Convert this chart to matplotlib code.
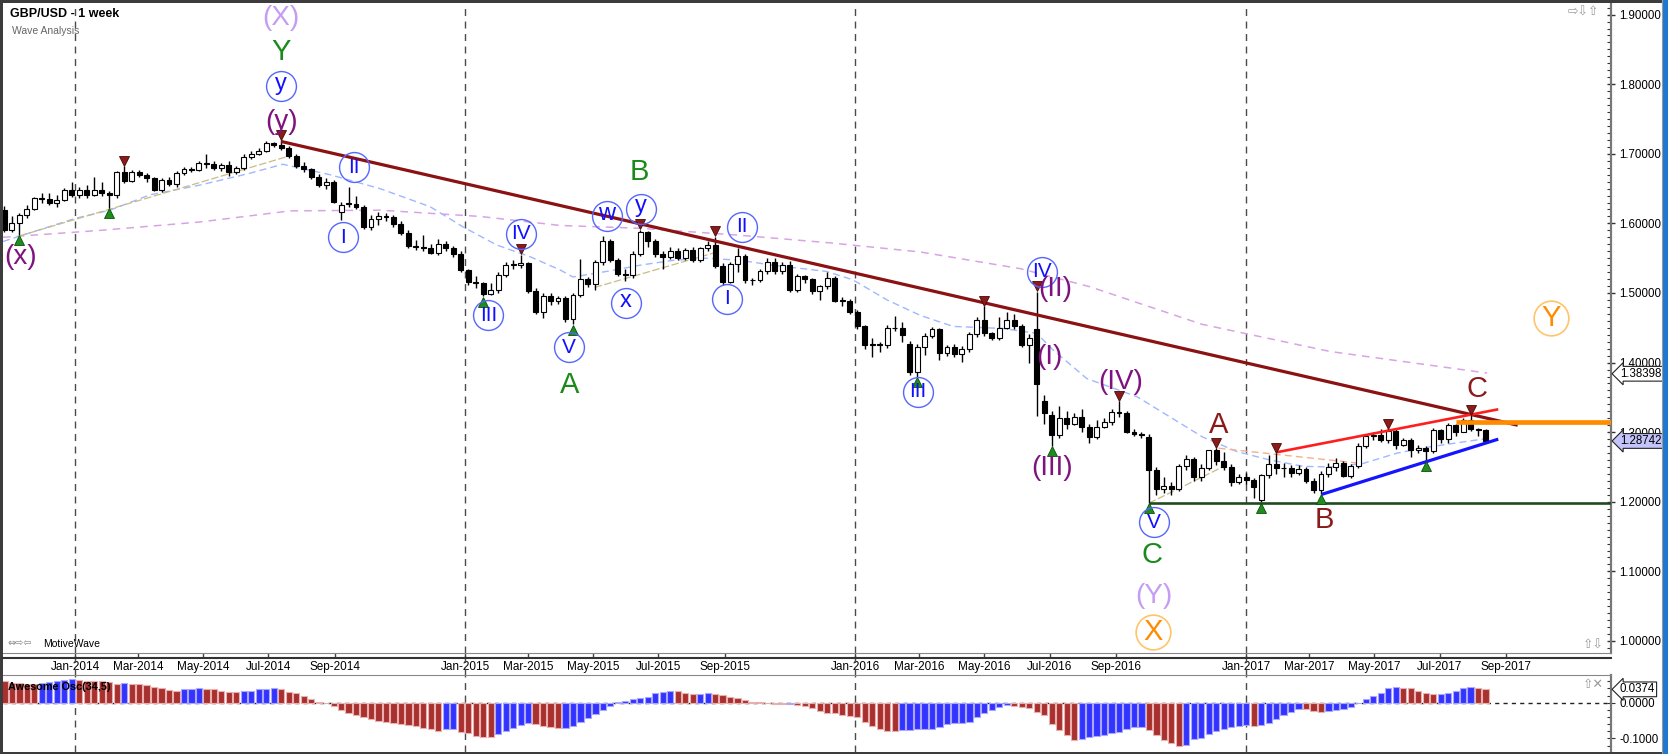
import numpy as np
import pandas as pd
import matplotlib
matplotlib.use('Agg')
import matplotlib.pyplot as plt
import matplotlib.dates as mdates
from matplotlib.lines import Line2D
from matplotlib.patches import Rectangle
from matplotlib.ticker import MultipleLocator, FixedLocator
from matplotlib.transforms import blended_transform_factory

plt.rcParams['font.family'] = ['Liberation Sans', 'DejaVu Sans']

# ---------------- data (weekly GBP/USD candles, week starts) ----------------
start_week = '2013-10-27'
opens = [1.619, 1.591, 1.601, 1.612, 1.621, 1.636, 1.635, 1.630, 1.634, 1.648,
         1.641, 1.648, 1.641, 1.648, 1.643, 1.641, 1.674, 1.661, 1.674, 1.670,
         1.665, 1.648, 1.662, 1.657, 1.672, 1.678, 1.677, 1.687, 1.685, 1.680,
         1.684, 1.674, 1.679, 1.696, 1.700, 1.704, 1.716, 1.713, 1.708, 1.697,
         1.682, 1.678, 1.667, 1.655, 1.660, 1.617, 1.629, 1.628, 1.624, 1.595,
         1.607, 1.611, 1.609, 1.599, 1.586, 1.567, 1.566, 1.564, 1.558, 1.571,
         1.564, 1.556, 1.533, 1.516, 1.514, 1.499, 1.505, 1.526, 1.542, 1.540,
         1.543, 1.503, 1.473, 1.495, 1.488, 1.493, 1.462, 1.497, 1.520, 1.513,
         1.544, 1.574, 1.548, 1.528, 1.526, 1.556, 1.588, 1.574, 1.556, 1.552,
         1.561, 1.551, 1.562, 1.548, 1.564, 1.569, 1.539, 1.516, 1.542, 1.553,
         1.519, 1.518, 1.532, 1.544, 1.531, 1.540, 1.504, 1.524, 1.520, 1.503,
         1.510, 1.521, 1.490, 1.488, 1.473, 1.452, 1.426, 1.426, 1.425, 1.449,
         1.450, 1.427, 1.387, 1.423, 1.438, 1.448, 1.414, 1.422, 1.413, 1.419,
         1.441, 1.461, 1.442, 1.436, 1.450, 1.461, 1.452, 1.425, 1.448, 1.345,
         1.325, 1.296, 1.320, 1.312, 1.322, 1.308, 1.293, 1.308, 1.314, 1.329,
         1.327, 1.301, 1.298, 1.293, 1.245, 1.219, 1.222, 1.219, 1.251, 1.261,
         1.235, 1.248, 1.274, 1.258, 1.250, 1.229, 1.235, 1.231, 1.2025, 1.238,
         1.255, 1.249, 1.248, 1.241, 1.247, 1.230, 1.217, 1.240, 1.250, 1.256,
         1.237, 1.251, 1.280, 1.294, 1.296, 1.289, 1.302, 1.282, 1.289, 1.274,
         1.278, 1.273, 1.303, 1.290, 1.310, 1.301, 1.318, 1.304, 1.303]
closes = [1.591, 1.601, 1.612, 1.621, 1.636, 1.635, 1.630, 1.634, 1.648, 1.641,
          1.648, 1.641, 1.648, 1.643, 1.641, 1.674, 1.661, 1.674, 1.670, 1.665,
          1.648, 1.662, 1.657, 1.672, 1.678, 1.677, 1.687, 1.685, 1.680, 1.684,
          1.674, 1.679, 1.696, 1.700, 1.704, 1.716, 1.713, 1.708, 1.697, 1.682,
          1.678, 1.667, 1.655, 1.660, 1.631, 1.627, 1.628, 1.624, 1.595, 1.607,
          1.611, 1.609, 1.599, 1.586, 1.567, 1.566, 1.564, 1.558, 1.571, 1.564,
          1.556, 1.533, 1.516, 1.514, 1.499, 1.505, 1.526, 1.540, 1.540, 1.543,
          1.503, 1.473, 1.495, 1.488, 1.493, 1.462, 1.497, 1.520, 1.513, 1.544,
          1.574, 1.548, 1.528, 1.526, 1.556, 1.588, 1.574, 1.556, 1.552, 1.561,
          1.551, 1.562, 1.548, 1.564, 1.569, 1.539, 1.516, 1.542, 1.553, 1.518,
          1.518, 1.532, 1.544, 1.531, 1.540, 1.504, 1.524, 1.520, 1.503, 1.510,
          1.521, 1.489, 1.488, 1.473, 1.452, 1.425, 1.425, 1.425, 1.450, 1.450,
          1.440, 1.387, 1.423, 1.438, 1.448, 1.414, 1.422, 1.413, 1.419, 1.441,
          1.461, 1.442, 1.436, 1.450, 1.461, 1.452, 1.425, 1.436, 1.369, 1.327,
          1.296, 1.320, 1.312, 1.322, 1.308, 1.293, 1.308, 1.314, 1.329, 1.327,
          1.301, 1.298, 1.296, 1.245, 1.219, 1.222, 1.219, 1.251, 1.261, 1.235,
          1.248, 1.274, 1.258, 1.250, 1.229, 1.235, 1.231, 1.221, 1.238, 1.255,
          1.249, 1.248, 1.241, 1.247, 1.230, 1.217, 1.240, 1.250, 1.256, 1.237,
          1.251, 1.280, 1.294, 1.296, 1.289, 1.302, 1.282, 1.289, 1.274, 1.278,
          1.273, 1.303, 1.290, 1.310, 1.301, 1.318, 1.304, 1.303, 1.287]
highs = [1.625, 1.611, 1.615, 1.626, 1.638, 1.644, 1.643, 1.641, 1.651, 1.660,
         1.652, 1.655, 1.667, 1.660, 1.647, 1.676, 1.682, 1.677, 1.677, 1.672,
         1.667, 1.665, 1.666, 1.675, 1.681, 1.681, 1.690, 1.700, 1.690, 1.687,
         1.689, 1.682, 1.699, 1.704, 1.708, 1.718, 1.717, 1.7195, 1.711, 1.700,
         1.688, 1.680, 1.671, 1.665, 1.662, 1.631, 1.652, 1.640, 1.627, 1.612,
         1.616, 1.615, 1.612, 1.603, 1.590, 1.576, 1.583, 1.570, 1.577, 1.574,
         1.567, 1.560, 1.535, 1.525, 1.516, 1.515, 1.530, 1.544, 1.547, 1.555,
         1.545, 1.507, 1.500, 1.500, 1.496, 1.496, 1.500, 1.549, 1.523, 1.547,
         1.582, 1.578, 1.550, 1.534, 1.560, 1.591, 1.589, 1.578, 1.560, 1.566,
         1.565, 1.565, 1.566, 1.566, 1.575, 1.581, 1.543, 1.545, 1.564, 1.556,
         1.522, 1.535, 1.551, 1.550, 1.544, 1.546, 1.528, 1.526, 1.522, 1.512,
         1.530, 1.524, 1.494, 1.492, 1.475, 1.454, 1.435, 1.430, 1.454, 1.467,
         1.459, 1.431, 1.427, 1.442, 1.451, 1.450, 1.426, 1.427, 1.424, 1.444,
         1.465, 1.481, 1.444, 1.465, 1.472, 1.470, 1.456, 1.441, 1.502, 1.353,
         1.330, 1.338, 1.330, 1.327, 1.333, 1.312, 1.318, 1.321, 1.333, 1.345,
         1.330, 1.304, 1.301, 1.297, 1.250, 1.235, 1.228, 1.255, 1.267, 1.264,
         1.254, 1.275, 1.2775, 1.272, 1.254, 1.240, 1.242, 1.234, 1.240, 1.267,
         1.2705, 1.256, 1.253, 1.253, 1.250, 1.234, 1.244, 1.256, 1.263, 1.258,
         1.254, 1.284, 1.297, 1.300, 1.304, 1.3048, 1.304, 1.292, 1.291, 1.281,
         1.280, 1.306, 1.305, 1.313, 1.312, 1.321, 1.324, 1.306, 1.304]
lows = [1.588, 1.587, 1.583, 1.608, 1.619, 1.630, 1.627, 1.624, 1.632, 1.638,
        1.636, 1.636, 1.639, 1.640, 1.622, 1.637, 1.658, 1.659, 1.666, 1.660,
        1.646, 1.645, 1.654, 1.653, 1.669, 1.674, 1.675, 1.679, 1.677, 1.676,
        1.668, 1.671, 1.677, 1.693, 1.698, 1.702, 1.710, 1.705, 1.694, 1.680,
        1.674, 1.664, 1.652, 1.650, 1.629, 1.605, 1.624, 1.620, 1.592, 1.590,
        1.597, 1.604, 1.595, 1.583, 1.565, 1.562, 1.561, 1.556, 1.555, 1.560,
        1.552, 1.530, 1.512, 1.507, 1.495, 1.497, 1.500, 1.523, 1.535, 1.536,
        1.500, 1.470, 1.464, 1.483, 1.484, 1.459, 1.455, 1.494, 1.508, 1.505,
        1.540, 1.545, 1.525, 1.517, 1.521, 1.553, 1.566, 1.552, 1.535, 1.549,
        1.547, 1.548, 1.545, 1.544, 1.561, 1.536, 1.512, 1.515, 1.530, 1.515,
        1.512, 1.516, 1.527, 1.528, 1.528, 1.501, 1.502, 1.514, 1.499, 1.490,
        1.506, 1.487, 1.482, 1.470, 1.448, 1.420, 1.408, 1.415, 1.421, 1.445,
        1.430, 1.382, 1.380, 1.411, 1.435, 1.404, 1.409, 1.408, 1.401, 1.415,
        1.437, 1.438, 1.432, 1.433, 1.448, 1.448, 1.422, 1.400, 1.323, 1.312,
        1.280, 1.291, 1.305, 1.310, 1.300, 1.284, 1.290, 1.306, 1.311, 1.322,
        1.299, 1.294, 1.291, 1.198, 1.210, 1.213, 1.210, 1.216, 1.246, 1.230,
        1.230, 1.245, 1.253, 1.245, 1.222, 1.225, 1.225, 1.205, 1.199, 1.234,
        1.240, 1.235, 1.235, 1.238, 1.227, 1.213, 1.2109, 1.236, 1.244, 1.235,
        1.234, 1.248, 1.277, 1.289, 1.286, 1.284, 1.276, 1.280, 1.265, 1.270,
        1.259, 1.270, 1.284, 1.285, 1.295, 1.300, 1.302, 1.294, 1.285]
# Awesome Oscillator (34,5) values
ao_vals = [0.061, 0.056, 0.054, 0.052, 0.051, 0.056, 0.059, 0.062, 0.063, 0.066,
           0.063, 0.062, 0.061, 0.060, 0.057, 0.052, 0.055, 0.052, 0.051, 0.049,
           0.045, 0.040, 0.035, 0.034, 0.037, 0.039, 0.040, 0.039, 0.037, 0.034,
           0.031, 0.030, 0.033, 0.034, 0.037, 0.039, 0.040, 0.038, 0.031, 0.028,
           0.019, 0.011, 0.003, -0.002, -0.009, -0.021, -0.030, -0.035, -0.041, -0.047,
           -0.050, -0.053, -0.056, -0.060, -0.063, -0.065, -0.070, -0.075, -0.078, -0.075,
           -0.074, -0.081, -0.086, -0.093, -0.095, -0.097, -0.088, -0.079, -0.070, -0.063,
           -0.058, -0.060, -0.065, -0.069, -0.072, -0.070, -0.064, -0.055, -0.044, -0.032,
           -0.021, -0.009, 0.002, 0.005, 0.009, 0.012, 0.017, 0.026, 0.029, 0.033,
           0.032, 0.026, 0.023, 0.025, 0.027, 0.024, 0.021, 0.015, 0.012, 0.007,
           0.002, 0.001, 0.0005, -0.004, -0.0045, -0.003, -0.006, -0.009, -0.016, -0.022,
           -0.028, -0.029, -0.035, -0.037, -0.041, -0.053, -0.065, -0.075, -0.079, -0.080,
           -0.077, -0.0755, -0.075, -0.0748, -0.074, -0.067, -0.060, -0.058, -0.056, -0.053,
           -0.041, -0.030, -0.021, -0.011, -0.007, -0.009, -0.011, -0.016, -0.025, -0.035,
           -0.060, -0.077, -0.091, -0.105, -0.103, -0.097, -0.093, -0.091, -0.086, -0.081,
           -0.074, -0.069, -0.068, -0.077, -0.091, -0.105, -0.114, -0.121, -0.119, -0.103,
           -0.100, -0.088, -0.078, -0.074, -0.069, -0.065, -0.063, -0.0645, -0.063, -0.058,
           -0.047, -0.035, -0.025, -0.018, -0.019, -0.022, -0.025, -0.022, -0.021, -0.018,
           -0.011, -0.002, 0.010, 0.020, 0.028, 0.040, 0.045, 0.042, 0.040, 0.034,
           0.026, 0.023, 0.025, 0.026, 0.033, 0.040, 0.043, 0.042, 0.0374]

# moving averages (week index, price)
ma_fast_n = [0.8, 10.4, 15.1, 20.45, 27.1, 33.8, 38.2, 44.5, 51.2, 57.9, 62.3, 66.8, 71.3,
             75.3, 77.0, 81.5, 86.0, 90.4, 94.9, 99.3, 103.7, 110.9, 114.4, 119.0, 123.4,
             127.8, 134.5, 139.0, 141.2, 145.7, 152.4, 156.8, 161.2, 165.8, 170.2, 174.6,
             178.2, 182.6, 187.2, 191.6, 196.0, 199.2]
ma_fast_p = [1.574, 1.607, 1.619, 1.641, 1.655, 1.672, 1.685, 1.670, 1.650, 1.624, 1.595,
             1.569, 1.552, 1.533, 1.523, 1.531, 1.540, 1.547, 1.550, 1.547, 1.540, 1.531,
             1.519, 1.490, 1.468, 1.452, 1.449, 1.442, 1.418, 1.377, 1.351, 1.322, 1.293,
             1.272, 1.260, 1.251, 1.250, 1.255, 1.270, 1.279, 1.286, 1.291]
ma_slow_n = [0.8, 13.8, 27.1, 39.2, 51.2, 64.6, 75.3, 86.0, 99.3, 111.4, 123.4, 136.8,
             146.1, 161.1, 178.2, 199.2]
ma_slow_p = [1.580, 1.590, 1.602, 1.618, 1.619, 1.610, 1.597, 1.593, 1.583, 1.572, 1.559,
             1.535, 1.509, 1.455, 1.416, 1.385]

# trend / channel lines (week index, price)
trend_lines = {
    'maroon': ([38, 203.3], [1.7177, 1.310]),
    'red': ([171.1, 200.7], [1.2712, 1.3329]),
    'blue': ([177.1, 200.7], [1.2107, 1.290]),
    'green': ([154.0, 216], [1.1978, 1.1978]),
    'orange': ([195.0, 216], [1.3153, 1.3153]),
}
dashed_guides = [([3, 38.8], [1.582, 1.696]), ([79.9, 95.98], [1.508, 1.558]),
                 ([154, 164.4], [1.198, 1.253])]
salmon_guide = ([163.3, 182.5], [1.277, 1.255])

low_pivots = [3, 15, 65, 77, 123, 141, 154, 169, 177, 191]
high_pivots = [17, 38, 70, 86, 96, 132, 139, 150, 163, 171, 186, 197]

# wave labels: (week index, price, text, style)
wave_labels = [
    (38, 1.895, '(X)', 'lav'), (38, 1.846, 'Y', 'green'), (38, 1.797, 'y', 'bluec'),
    (38, 1.745, '(y)', 'purple'), (3.17, 1.552, '(x)', 'purple'),
    (46.3, 1.580, 'I', 'bluec'), (47.7, 1.681, 'II', 'bluec'), (65.7, 1.468, 'III', 'bluec'),
    (70.05, 1.585, 'IV', 'bluec'), (76.5, 1.4224, 'V', 'bluec'), (76.5, 1.368, 'A', 'green'),
    (81.5, 1.610, 'w', 'bluec'), (86.05, 1.6205, 'y', 'bluec'), (84.1, 1.485, 'x', 'bluec'),
    (85.9, 1.674, 'B', 'green'), (99.6, 1.5953, 'II', 'bluec'), (97.6, 1.492, 'I', 'bluec'),
    (123.1, 1.358, 'III', 'bluec'), (139.7, 1.5306, 'IV', 'bluec'),
    (141.5, 1.5053, '(II)', 'purple'), (140.7, 1.4085, '(I)', 'purple'),
    (141.0, 1.2486, '(III)', 'purple'), (150.2, 1.3726, '(IV)', 'purple'),
    (154.7, 1.1705, 'V', 'bluec'), (154.4, 1.1236, 'C', 'green'),
    (154.6, 1.0647, '(Y)', 'lav'), (154.6, 1.0134, 'X', 'orangec'),
    (163.3, 1.3103, 'A', 'maroon'), (177.5, 1.1739, 'B', 'maroon'),
    (197.8, 1.3616, 'C', 'maroon'), (207.7, 1.4636, 'Y', 'orangec'),
]

month_ticks = ['2014-01', '2014-03', '2014-05', '2014-07', '2014-09',
               '2015-01', '2015-03', '2015-05', '2015-07', '2015-09',
               '2016-01', '2016-03', '2016-05', '2016-07', '2016-09',
               '2017-01', '2017-03', '2017-05', '2017-07', '2017-09']
year_lines = ['2014-01-01', '2015-01-01', '2016-01-01', '2017-01-01']

# ---------------- figure ----------------
W, H = 1668, 754
fig = plt.figure(figsize=(W / 100, H / 100), dpi=100)
fig.patch.set_facecolor('white')


def rect(x0, y0, x1, y1):
    return [x0 / W, 1 - y1 / H, (x1 - x0) / W, (y1 - y0) / H]


ax = fig.add_axes(rect(3, 3, 1611, 653))
osc = fig.add_axes(rect(3, 675, 1611, 752), sharex=ax)
strip = fig.add_axes(rect(3, 653, 1611, 675), sharex=ax)

o = np.array(opens); c = np.array(closes); hi = np.array(highs); lo = np.array(lows)
weeks = pd.date_range(start_week, periods=len(closes), freq='7D')
xd = mdates.date2num(weeks)
x0 = xd[0]


def wx(n):
    return x0 + (np.asarray(n, dtype=float) - 1) * 7.0


jan1 = mdates.date2num(pd.Timestamp('2014-01-01'))
ax.set_xlim(jan1 + (3 - 75) / 1.0686, jan1 + (1611 - 75) / 1.0686)
ax.set_ylim(1 - 12 / 696, 1 + 638 / 696)
osc.set_ylim(-(752 - 702.7) / 357, (702.7 - 675) / 357)

# moving averages (behind candles)
ax.plot(wx(ma_slow_n), ma_slow_p, color='#d8a4e4', lw=1.1, ls=(0, (5, 4)), zorder=1)
ax.plot(wx(ma_fast_n), ma_fast_p, color='#9fb8ff', lw=1.0, ls=(0, (5, 3)), zorder=1)
for xs, ys in dashed_guides:
    ax.plot(wx(xs), ys, color='#c8bc84', lw=0.9, ls=(0, (6, 2)), zorder=1)
ax.plot(wx(salmon_guide[0]), salmon_guide[1], color='#f4b08c', lw=1.0, ls=(0, (5, 3)), zorder=1)

# candles
up = c >= o
ax.vlines(xd, lo, hi, color='black', lw=1.0, zorder=3)
body_h = np.maximum(np.abs(c - o), 0.0012)
body_b = np.minimum(o, c)
ax.bar(xd, body_h, bottom=body_b, width=4.6,
       color=np.where(up, 'white', 'black'), edgecolor='black', lw=0.8, zorder=3.5)

# trend lines
styles = {'maroon': ('#8b1212', 2.3), 'red': ('#ff1e1e', 1.9), 'blue': ('#1414ff', 2.3),
          'green': ('#1f4a1f', 1.9), 'orange': ('#ff8c00', 3.4)}
for k, (xs, ys) in trend_lines.items():
    col, lw = styles[k]
    ax.plot(wx(xs), ys, color=col, lw=lw, zorder=4, solid_capstyle='butt')

# pivot markers
li = np.array(low_pivots) - 1
hj = np.array(high_pivots) - 1
ax.plot(xd[li], lo[li] - 0.0075, '^', color='#1e8c1e', mec='#0c4f0c', mew=0.6, ms=7, zorder=5)
ax.plot(xd[hj], hi[hj] + 0.0075, 'v', color='#8b1a1a', mec='#4a0808', mew=0.6, ms=7, zorder=5)

# wave labels
lab_style = {
    'lav': dict(color='#c49cf4', size=20),
    'green': dict(color='#1b8a1b', size=21),
    'purple': dict(color='#7e127e', size=20),
    'maroon': dict(color='#8b1a1a', size=21),
    'bluec': dict(color='#1010ff', size=15),
    'orangec': dict(color='#ff8c00', size=21),
}
for n, p, s, st in wave_labels:
    d = lab_style[st]
    size = d['size']
    if st == 'bluec' and s in ('w', 'x', 'y'):
        size = 17
    ty = p + (0.004 if s in ('w', 'x', 'y') and st == 'bluec' else 0)
    ax.text(wx(n), ty, s, color=d['color'], fontsize=size, ha='center', va='center',
            zorder=6, clip_on=False)
    if st == 'bluec':
        ax.plot(wx(n), p, 'o', ms=21.5, mfc='none', mec='#5566ff', mew=1.0, zorder=6)
    if st == 'orangec':
        ax.plot(wx(n), p, 'o', ms=25, mfc='none', mec='#ffc46a', mew=1.2, zorder=6)

# year separator lines
for yl in year_lines:
    xv = mdates.date2num(pd.Timestamp(yl))
    for a in (ax, osc, strip):
        a.axvline(xv, color='#4a4a4a', lw=1.0, ls=(0, (5, 4)), zorder=0.5)

# axes styling
for a in (ax, osc, strip):
    for sp in a.spines.values():
        sp.set_visible(False)
    a.set_facecolor('white')

ax.spines['right'].set_visible(True)
ax.spines['right'].set_color('#777777')
ax.spines['right'].set_linewidth(1.6)
ax.spines['bottom'].set_visible(True)
ax.spines['bottom'].set_color('#888888')

ax.yaxis.tick_right()
ax.yaxis.set_major_locator(FixedLocator(np.round(np.arange(1.0, 1.95, 0.1), 2)))
ax.yaxis.set_minor_locator(MultipleLocator(0.01))
ax.yaxis.set_major_formatter(plt.FuncFormatter(lambda v, p: '%.5f' % v))
ax.tick_params(axis='y', which='major', direction='inout', length=6, width=1, color='#333333',
               labelsize=8.3, pad=3)
ax.tick_params(axis='y', which='minor', direction='in', length=3, width=0.8, color='#333333')

ax.set_xticks([mdates.date2num(pd.Timestamp(m + '-01')) for m in month_ticks])
ax.xaxis.set_major_formatter(mdates.DateFormatter('%b-%Y'))
ax.tick_params(axis='x', which='major', direction='out', length=3.6, width=1, color='#444444',
               labelsize=8.5, pad=2.5)
ax.tick_params(axis='x', which='minor', length=0)

strip.axis('off')
strip.set_ylim(0, 1)

osc.spines['top'].set_visible(True)
osc.spines['top'].set_color('#888888')
osc.spines['right'].set_visible(True)
osc.spines['right'].set_color('#777777')
osc.spines['right'].set_linewidth(1.6)
osc.yaxis.tick_right()
osc.yaxis.set_major_locator(FixedLocator([-0.1, 0.0]))
osc.yaxis.set_minor_locator(MultipleLocator(0.02))
osc.yaxis.set_major_formatter(plt.FuncFormatter(lambda v, p: '%.4f' % v))
osc.tick_params(axis='y', which='major', direction='inout', length=6, color='#333333',
                labelsize=8.3, pad=3)
osc.tick_params(axis='y', which='minor', direction='in', length=3, width=0.8, color='#333333')
osc.tick_params(axis='x', which='both', length=0, labelbottom=False)

# awesome oscillator bars
ao = np.array(ao_vals)
rising = np.concatenate([[False], np.diff(ao) > 0])
osc.bar(xd, ao, width=5.8, color=np.where(rising, '#3333ff', '#a8302e'),
        edgecolor=np.where(rising, '#a8a8ff', '#eab0b0'), lw=0.8, zorder=2)
osc.axhline(0, color='#222222', lw=1.0, ls=(0, (3, 3)), zorder=1)

# boxed value labels on right axes
bt = blended_transform_factory(ax.transAxes, ax.transData)
ax.text(1.0055, 1.38398, '1.38398', transform=bt, fontsize=8.3, ha='left', va='center',
        bbox=dict(boxstyle='larrow,pad=0.12', fc='white', ec='#222222', lw=0.8), zorder=7,
        clip_on=False)
ax.text(1.0055, 1.28742, '1.28742', transform=bt, fontsize=8.3, ha='left', va='center',
        bbox=dict(boxstyle='larrow,pad=0.12', fc='#c4c4fa', ec='#222222', lw=0.8), zorder=7,
        clip_on=False)
bo = blended_transform_factory(osc.transAxes, osc.transData)
osc.text(1.0055, 0.0374, '0.0374', transform=bo, fontsize=8.3, ha='left', va='center',
         bbox=dict(boxstyle='larrow,pad=0.12', fc='white', ec='#222222', lw=0.8), zorder=7,
         clip_on=False)

# separator line below date ticks
fig.add_artist(Line2D([3 / W, 1611 / W], [1 - 658 / H] * 2, color='#333333', lw=1.5))

# titles and misc text
fig.text(10 / W, 1 - 14 / H, 'GBP/USD - 1 week', fontsize=9, fontweight='bold', va='center')
fig.text(12 / W, 1 - 31 / H, 'Wave Analysis', fontsize=7.5, color='#666666', va='center')
fig.text(8 / W, 1 - 687 / H, 'Awesome Osc(34,5)', fontsize=7.8, fontweight='bold', va='center')
fig.text(7 / W, 1 - 644 / H, '⇔⇨⇦', fontsize=7, color='#888888', va='center',
         family=['DejaVu Sans'])
fig.text(43 / W, 1 - 644 / H, 'MotiveWave', fontsize=7.5, va='center')
fig.text(1568 / W, 1 - 12 / H, '⇨⇩⇧', fontsize=9, color='#999999', va='center',
         family=['DejaVu Sans'])
fig.text(1583 / W, 1 - 645 / H, '⇧⇩', fontsize=9, color='#999999', va='center',
         family=['DejaVu Sans'])
fig.text(1583 / W, 1 - 685 / H, '⇧✕', fontsize=9, color='#999999', va='center',
         family=['DejaVu Sans'])

# window frame
fig.add_artist(Rectangle((0, 1 - 2.5 / H), 1, 2.5 / H, transform=fig.transFigure,
                         color='#3c3c3c', lw=0))
fig.add_artist(Rectangle((0, 0), 2.5 / W, 1, transform=fig.transFigure, color='#3c3c3c', lw=0))
fig.add_artist(Rectangle((0, 0), 1, 2.5 / H, transform=fig.transFigure, color='#3c3c3c', lw=0))
fig.add_artist(Rectangle((1 - 5 / W, 0), 5 / W, 1, transform=fig.transFigure,
                         color='#1f78d0', lw=0))
fig.add_artist(Line2D([1 - 6 / W] * 2, [0, 1], color='#9a9a9a', lw=0.8))

fig.savefig('out.png', dpi=100)
